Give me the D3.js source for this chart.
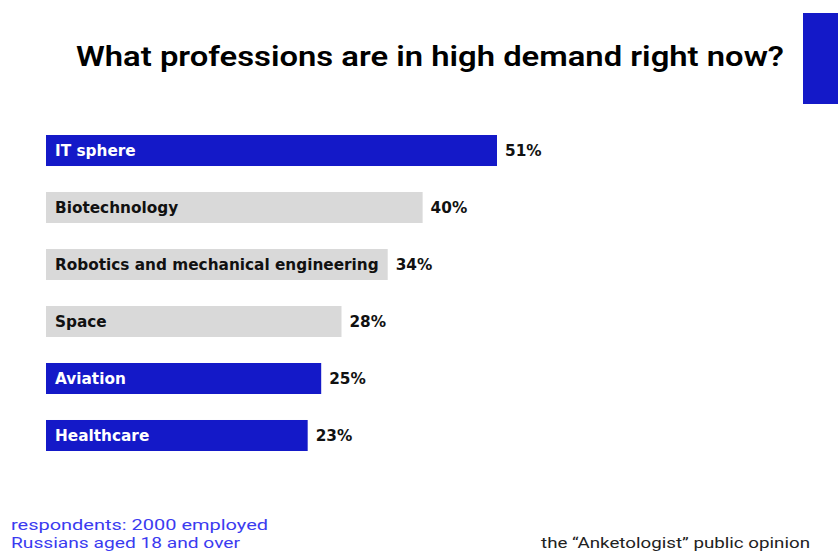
<!DOCTYPE html>
<html>
<head>
<meta charset="utf-8">
<script src="https://cdn.jsdelivr.net/npm/d3@7"></script>
<style>
  html, body { margin: 0; padding: 0; background: #fff; }
  svg { display: block; }
</style>
</head>
<body>
<svg id="chart" width="838" height="552"></svg>
<script>
// data
var categories = ["IT sphere", "Biotechnology", "Robotics and mechanical engineering", "Space", "Aviation", "Healthcare"];
var values = [51, 40, 34, 28, 25, 23];
var highlighted = [true, false, false, false, true, true];
var valueLabels = ["51%", "40%", "34%", "28%", "25%", "23%"];

var BLUE = "#1419c8";
var GREY = "#d9d9d9";

var svg = d3.select("#chart");

// title + corner block
svg.append("text")
    .attr("x", 430).attr("y", 66)
    .attr("text-anchor", "middle")
    .attr("font-family", "Roboto, 'DejaVu Sans Condensed', sans-serif")
    .attr("font-weight", 600)
    .attr("font-size", 27)
    .attr("textLength", 708)
    .attr("lengthAdjust", "spacingAndGlyphs")
    .attr("fill", "#000")
    .text("What professions are in high demand right now?");

svg.append("rect")
    .attr("x", 803).attr("y", 13)
    .attr("width", 35).attr("height", 91)
    .attr("fill", BLUE);

// scales
var x = d3.scaleLinear().domain([-15.7, 51]).range([0, 451]);
var y = d3.scaleBand().domain(categories).range([135, 451]).paddingInner(0.456).paddingOuter(0);

var rows = categories.map(function (c, i) {
    return { name: c, value: values[i], hl: highlighted[i], label: valueLabels[i] };
});

var x0 = 46;
var g = svg.append("g");

var row = g.selectAll("g.row").data(rows).enter().append("g").attr("class", "row");

var bars = row.append("rect")
    .attr("x", x0)
    .attr("y", function (d) { return y(d.name); })
    .attr("height", y.bandwidth())
    .attr("fill", function (d) { return d.hl ? BLUE : GREY; });

var names = row.append("text")
    .attr("x", x0 + 9)
    .attr("y", function (d) { return y(d.name) + y.bandwidth() / 2 + 5.5; })
    .attr("font-family", "'DejaVu Sans', sans-serif")
    .attr("font-weight", "bold")
    .attr("font-size", 15.3)
    .attr("fill", function (d) { return d.hl ? "#fff" : "#111"; })
    .text(function (d) { return d.name; });

// bar never shorter than its label
names.each(function (d) {
    d.w = Math.max(x(d.value), this.getComputedTextLength() + 18);
});
bars.attr("width", function (d) { return d.w; });

row.append("text")
    .attr("x", function (d) { return x0 + d.w + 8; })
    .attr("y", function (d) { return y(d.name) + y.bandwidth() / 2 + 5.5; })
    .attr("font-family", "'DejaVu Sans', sans-serif")
    .attr("font-weight", "bold")
    .attr("font-size", 15.3)
    .attr("fill", "#111")
    .text(function (d) { return d.label; });

// footer
var foot = svg.append("g")
    .attr("font-family", "Roboto, sans-serif")
    .attr("font-weight", 400)
    .attr("font-size", 15);

foot.append("text").attr("x", 11).attr("y", 530).attr("fill", "#3b3bf0")
    .attr("textLength", 257).attr("lengthAdjust", "spacingAndGlyphs")
    .text("respondents: 2000 employed");
foot.append("text").attr("x", 11).attr("y", 548).attr("fill", "#3b3bf0")
    .attr("textLength", 229).attr("lengthAdjust", "spacingAndGlyphs")
    .text("Russians aged 18 and over");
foot.append("text").attr("x", 541).attr("y", 548).attr("fill", "#222")
    .attr("textLength", 269).attr("lengthAdjust", "spacingAndGlyphs")
    .text("the \u201cAnketologist\u201d public opinion");
</script>
</body>
</html>
